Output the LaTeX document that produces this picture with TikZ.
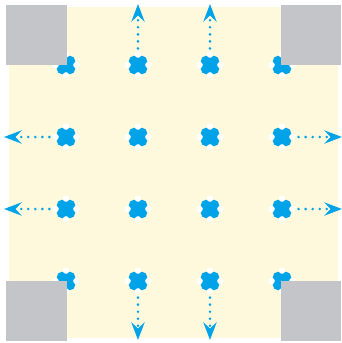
\documentclass[tikz,border=0pt]{standalone}
\usepackage{tikz}
\usetikzlibrary{arrows.meta,positioning,calc}
\definecolor{padcol}{HTML}{FEF9DC}
\definecolor{dotcol}{HTML}{00A3E8}
\definecolor{cornercol}{HTML}{C4C5C9}
\begin{document}
\begin{tikzpicture}[
  x=0.02cm,y=-0.02cm,
  blob/.style={rectangle,fill=dotcol,minimum size=10.5pt,inner sep=0pt,
               rounded corners=3pt},
  notch/.style={fill=white},
  dotarr/.style={dotcol,line width=1.6pt,line cap=round,
                 dash pattern=on 0pt off 4pt,shorten <=4pt,
                 -{Stealth[length=10pt,width=7.5pt,inset=3.5pt]}},
  corner/.style={fill=cornercol}
]
\useasboundingbox (0,0) rectangle (342,343);
% --- background ---
\fill[padcol] (9,7) rectangle (338,338);
% --- grid of blobs ---
\foreach \i/\x in {1/66,2/138,3/210,4/282}
  \foreach \j/\y in {1/65,2/137,3/209,4/281}
    \node[blob] (p\i\j) at (\x,\y) {};
\foreach \i in {1,...,4}
  \foreach \j in {1,...,4}
    \foreach \a in {north,south,east,west}
      \fill[notch] ($(p\i\j.center)!1.08!(p\i\j.\a)$) circle (1.8pt);
% --- free ends of the arrows ---
\coordinate (t2) at (138,4);
\coordinate (t3) at (210,4);
\coordinate (b2) at (138,340);
\coordinate (b3) at (210,340);
\coordinate (l2) at (4,137);
\coordinate (l3) at (4,209);
\coordinate (r2) at (342,137);
\coordinate (r3) at (342,209);
\draw[dotarr] (p21) -- (t2);
\draw[dotarr] (p31) -- (t3);
\draw[dotarr] (p24) -- (b2);
\draw[dotarr] (p34) -- (b3);
\draw[dotarr] (p12) -- (l2);
\draw[dotarr] (p13) -- (l3);
\draw[dotarr] (p42) -- (r2);
\draw[dotarr] (p43) -- (r3);
% --- grey corners ---
\fill[corner] (6,5) rectangle (67,65);
\fill[corner] (281,5) rectangle (341,65);
\fill[corner] (6,281) rectangle (67,341);
\fill[corner] (281,281) rectangle (341,341);
\end{tikzpicture}
\end{document}
